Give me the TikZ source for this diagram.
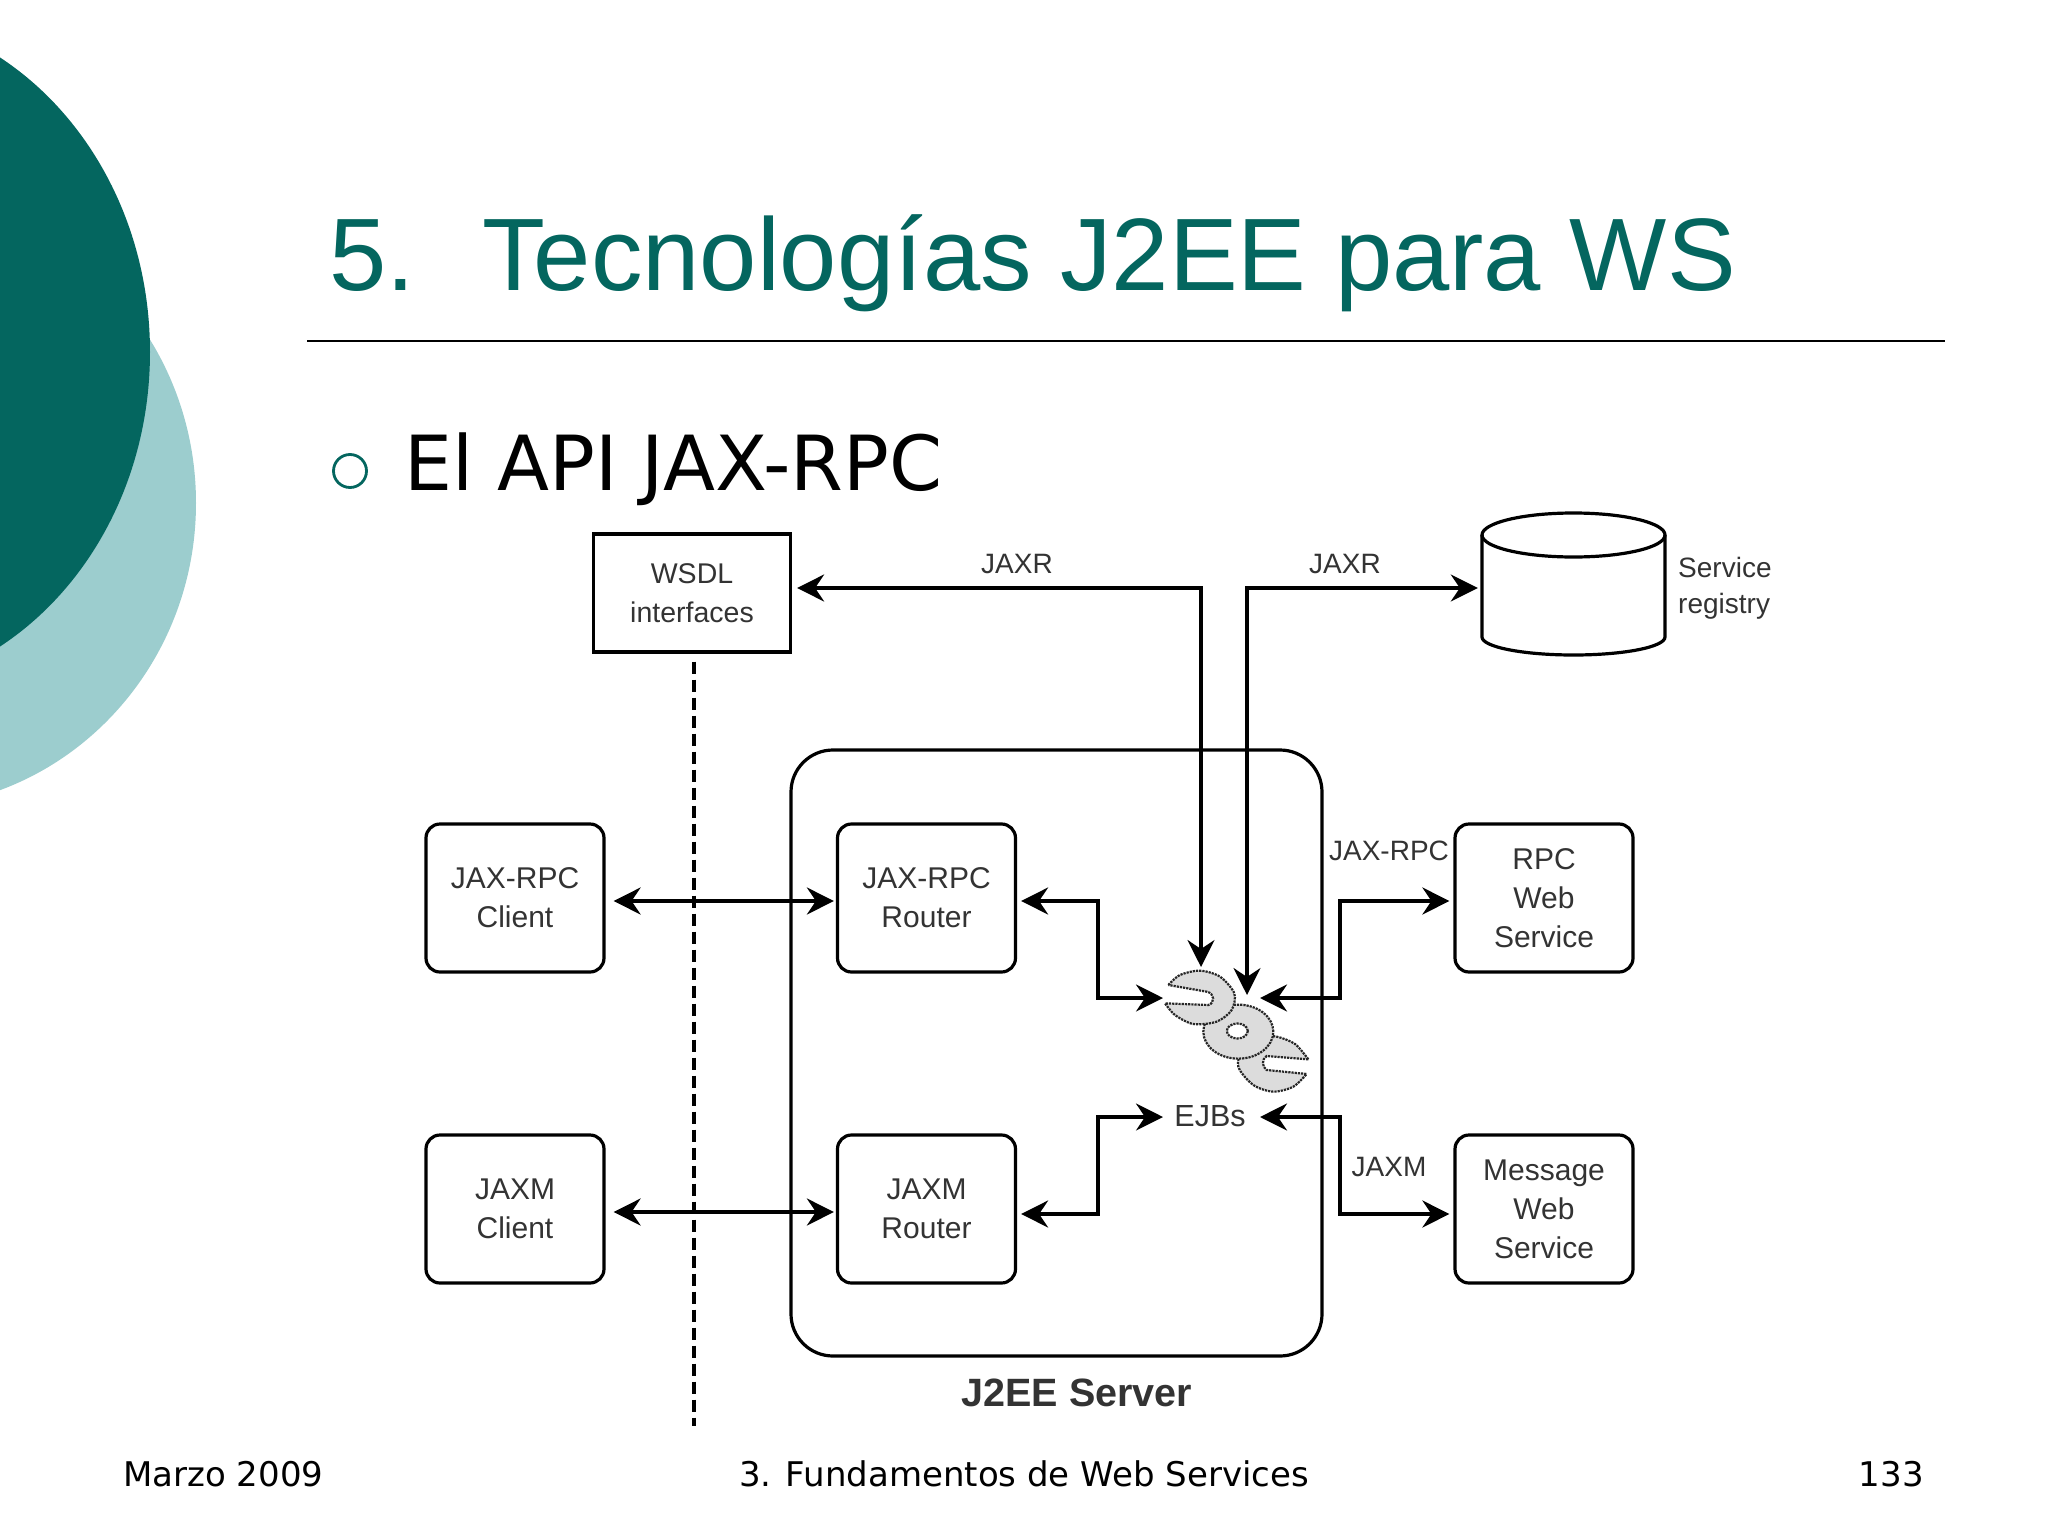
\documentclass[tikz,border=0pt]{standalone}
\usepackage{fontspec}
\setmainfont{Liberation Sans}
\newfontfamily\vfont{DejaVu Sans}
\usetikzlibrary{arrows.meta,calc}
\definecolor{tealdark}{HTML}{04665F}
\definecolor{teallight}{HTML}{9CCDCE}
\definecolor{inkgray}{HTML}{333333}
\definecolor{geargray}{HTML}{DCDCDC}
\tikzset{
 x=1pt,y=-1pt,
 boxr/.style={draw=black,line width=3.2pt,rounded corners=14pt,minimum width=178pt,minimum height=148pt,align=center,text=inkgray,inner sep=0pt,font=\fontsize{30}{39}\selectfont},
 lab/.style={text=inkgray,inner sep=0pt,align=center,font=\fontsize{28}{36}\selectfont},
 conn/.style={draw=black,line width=3.4pt,-{Stealth[length=27pt,width=27pt,inset=9pt]}},
 connb/.style={draw=black,line width=3.4pt,{Stealth[length=27pt,width=27pt,inset=9pt]}-{Stealth[length=27pt,width=27pt,inset=9pt]}},
 gearshape/.style={draw=black!85,line width=2.2pt,densely dotted,fill=geargray},
}
\begin{document}
\begin{tikzpicture}
\useasboundingbox (0,0) rectangle (2048,1536);
\fill[white] (0,0) rectangle (2048,1536);
% decorative ellipses
\begin{scope}
\clip (0,0) rectangle (2048,1536);
\fill[teallight] (-100,503) ellipse[x radius=296pt,y radius=305pt];
\fill[tealdark] (-150,352) ellipse[x radius=300pt,y radius=340pt];
\end{scope}
% title
\node[anchor=base west,inner sep=0pt,text=tealdark,font=\fontsize{103}{110}\selectfont] (num) at (329,290) {5.};
\node[anchor=base west,inner sep=0pt,text=tealdark,font=\fontsize{103}{110}\selectfont] (title) at (482,290) {Tecnologías J2EE para WS};
\coordinate (ruleL) at (307,341);
\coordinate (ruleR) at (1945,341);
\draw[line width=2.8pt] (ruleL) -- (ruleR);
% bullet
\draw[tealdark,line width=2.8pt] (350,471) circle[radius=16.5pt];
\node[anchor=base west,inner sep=0pt,font=\vfont\fontsize{76}{80}\selectfont] (bullet) at (404,490) {El API JAX-RPC};
% server
\node[draw=black,line width=3.2pt,rounded corners=42pt,minimum width=531pt,minimum height=606pt,inner sep=0pt] (server) at (1056.5,1053) {};
\node[inner sep=0pt,text=inkgray,font=\bfseries\fontsize{39.5}{42}\selectfont] (serverlab) at (1077,1393) {J2EE Server};
% boxes
\node[draw=black,line width=3.2pt,minimum width=197pt,minimum height=118pt,align=center,text=inkgray,inner sep=0pt,font=\fontsize{28.5}{39}\selectfont] (wsdl) at (692,593) {WSDL\\interfaces};
\node[boxr] (rpcclient) at (515,898) {JAX-RPC\\Client};
\node[boxr] (jaxmclient) at (515,1209) {JAXM\\Client};
\node[boxr] (rpcrouter) at (926.5,898) {JAX-RPC\\Router};
\node[boxr] (jaxmrouter) at (926.5,1209) {JAXM\\Router};
\node[boxr] (rpcws) at (1544,898) {RPC\\Web\\Service};
\node[boxr] (msgws) at (1544,1209) {Message\\Web\\Service};
% registry cylinder
\node[minimum width=183pt,minimum height=134pt,inner sep=0pt] (registry) at (1573.5,588) {};
\draw[line width=3.2pt] (1482,535) -- (1482,637) arc[start angle=180,end angle=360,x radius=91.5pt,y radius=18pt] -- (1665,535);
\draw[line width=3.2pt] (1573.5,535) ellipse[x radius=91.5pt,y radius=22pt];
\node[lab,anchor=west,align=left] (reglab) at (1678,588) {Service\\registry};
% gears
\begin{scope}[shift={(1100pt,-900pt)},x=0.3333pt,y=-0.3333pt]
\draw[gearshape] plot[smooth] coordinates {(625,478) (585,432) (530,410) (480,410) (430,440) (415,500) (460,555) (520,575) (580,560) (620,522)} -- (500,510) .. controls (485,500) and (485,478) .. (500,468) -- cycle;
\draw[gearshape] (415,395) ellipse[x radius=35pt,y radius=27pt];
\draw[gearshape,fill=white] (412,393) ellipse[x radius=10.5pt,y radius=7.5pt];
\draw[gearshape] plot[smooth] coordinates {(205,255) (240,225) (300,212) (360,230) (403,280) (395,330) (350,365) (280,372) (225,345) (195,310)} -- (325,315) .. controls (345,310) and (345,280) .. (320,275) -- cycle;
\end{scope}
\node[inner sep=0pt,text=inkgray,font=\fontsize{30.5}{32}\selectfont] (ejbs) at (1210,1116) {EJBs};
% connector end points
\coordinate (gearA) at (1201,967);
\coordinate (gearB) at (1247,995);
\coordinate (gearL) at (1163,998);
\coordinate (gearR) at (1260,998);
\coordinate (ejbL) at (1163,1117);
\coordinate (ejbR) at (1260,1117);
% dashed
\coordinate (dashend) at (694,1426);
\draw[line width=3.4pt,dash pattern=on 12pt off 6pt] (wsdl.south -| dashend) ++(0,8) -- (dashend);
% connectors
\draw[connb,shorten >=5pt] (gearA) |- ([yshift=5pt]wsdl.east);
\draw[connb,shorten >=4pt] (gearB) |- (registry.west);
\draw[connb,shorten <=8pt,shorten >=2pt] ([yshift=-3pt]rpcclient.east) -- ([yshift=-3pt]rpcrouter.west);
\draw[connb,shorten <=8pt,shorten >=2pt] ([yshift=-3pt]jaxmclient.east) -- ([yshift=-3pt]jaxmrouter.west);
\draw[connb,shorten <=4pt] ([yshift=-3pt]rpcrouter.east) -| (1098,998) -- (gearL);
\draw[connb,shorten <=4pt] ([yshift=-5pt]jaxmrouter.east) -| (1098,1117) -- (ejbL);
\draw[connb,shorten >=4pt] (gearR) -| (1340,901) -- ([yshift=-3pt]rpcws.west);
\draw[connb,shorten >=4pt] (ejbR) -| (1340,1214) -- ([yshift=-5pt]msgws.west);
% labels
\node[lab] (jaxr1) at (1017,564) {JAXR};
\node[lab] (jaxr2) at (1345,564) {JAXR};
\node[lab] (jaxrpc) at (1389,851) {JAX-RPC};
\node[lab] (jaxm) at (1389,1167) {JAXM};
% footer
\node[anchor=base west,inner sep=0pt,font=\vfont\fontsize{34}{40}\selectfont] (foot1) at (123,1486) {Marzo 2009};
\node[anchor=base,inner sep=0pt,font=\vfont\fontsize{34}{40}\selectfont] (foot2) at (1024,1486) {3. Fundamentos de Web Services};
\node[anchor=base east,inner sep=0pt,font=\vfont\fontsize{34}{40}\selectfont] (foot3) at (1924,1486) {133};
\end{tikzpicture}
\end{document}
